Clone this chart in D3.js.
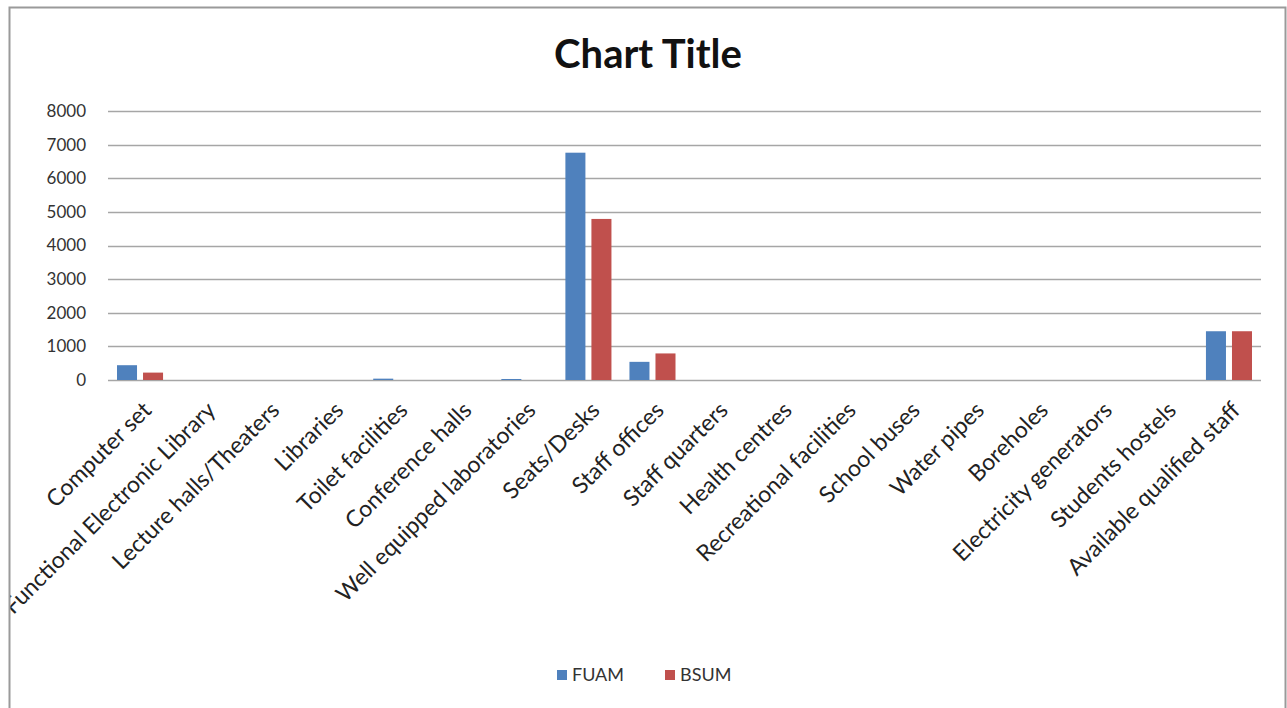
<!DOCTYPE html>
<html>
<head>
<meta charset="utf-8">
<script src="https://d3js.org/d3.v7.min.js"></script>
<style>
  body { margin: 0; background: #fff; }
  svg { display: block; }
</style>
</head>
<body>
<div id="chart"></div>
<script>
const categories = [
  "Computer set", "Functional Electronic Library", "Lecture halls/Theaters", "Libraries",
  "Toilet facilities", "Conference halls", "Well equipped laboratories", "Seats/Desks",
  "Staff offices", "Staff quarters", "Health centres", "Recreational facilities",
  "School buses", "Water pipes", "Boreholes", "Electricity generators",
  "Students hostels", "Available qualified staff"
];
const seriesNames = ["FUAM", "BSUM"];
const fuam = [440, 0, 0, 0, 40, 0, 30, 6760, 540, 0, 0, 0, 0, 0, 0, 0, 0, 1450];
const bsum = [220, 0, 0, 0, 0, 0, 0, 4790, 790, 0, 0, 0, 0, 0, 0, 0, 0, 1450];
const yTicks = [0, 1000, 2000, 3000, 4000, 5000, 6000, 7000, 8000];
const colors = ["#4F81BD", "#C0504D"];

const width = 1287, height = 708;
const font = "Lato, 'Open Sans', sans-serif";

const svg = d3.select("#chart").append("svg")
  .attr("width", width)
  .attr("height", height);

svg.append("defs").append("clipPath")
  .attr("id", "frame")
  .append("rect")
  .attr("x", 10).attr("y", 8)
  .attr("width", 1275).attr("height", 710);

const root = svg.append("g").attr("clip-path", "url(#frame)");

// chart border
svg.append("rect")
  .attr("x", 9.5).attr("y", 7.5)
  .attr("width", 1276).attr("height", 720)
  .attr("fill", "none")
  .attr("stroke", "#9a9a9a")
  .attr("stroke-width", 2);

const x0 = d3.scaleBand()
  .domain(categories)
  .range([108, 1261])
  .padding(0);

const x1 = d3.scaleBand()
  .domain(seriesNames)
  .range([9, x0.bandwidth() - 9])
  .paddingInner(6 / 26);

const y = d3.scaleLinear()
  .domain([0, 8000])
  .range([380, 111]);

// gridlines
root.append("g")
  .selectAll("line")
  .data(yTicks)
  .enter().append("line")
  .attr("x1", 108).attr("x2", 1261)
  .attr("y1", d => Math.round(y(d)) + 0.5)
  .attr("y2", d => Math.round(y(d)) + 0.5)
  .attr("stroke", "#a6a6a6")
  .attr("stroke-width", 1.6);

// y axis labels
const yAxis = root.append("g")
  .attr("transform", "translate(108,0)")
  .call(d3.axisLeft(y).tickValues(yTicks).tickFormat(d3.format("d")).tickSize(0).tickPadding(22));
yAxis.select(".domain").remove();
yAxis.selectAll("text")
  .attr("fill", "#333")
  .style("font-family", font)
  .style("font-size", "17px");

// bars
const data = categories.map((c, i) => ({ cat: c, values: [fuam[i], bsum[i]] }));
const groups = root.append("g")
  .selectAll("g")
  .data(data)
  .enter().append("g")
  .attr("transform", d => `translate(${x0(d.cat)},0)`);

groups.selectAll("rect")
  .data(d => d.values.map((v, k) => ({ key: seriesNames[k], v: v, k: k })))
  .enter().append("rect")
  .filter(d => d.v > 0)
  .attr("x", d => x1(d.key))
  .attr("width", x1.bandwidth())
  .attr("y", d => y(d.v))
  .attr("height", d => y(0) - y(d.v))
  .attr("fill", d => colors[d.k]);

// category labels
root.append("g")
  .selectAll("text")
  .data(categories)
  .enter().append("text")
  .attr("transform", d => `translate(${x0(d) + x0.bandwidth() / 2 + 7},406) rotate(-45)`)
  .attr("text-anchor", "end")
  .attr("dy", "0.35em")
  .attr("fill", "#222")
  .style("font-family", font)
  .style("font-size", "23px")
  .text(d => d);

// title
root.append("text")
  .attr("x", 648).attr("y", 68)
  .attr("text-anchor", "middle")
  .attr("fill", "#111")
  .style("font-family", font)
  .style("font-weight", "bold")
  .style("font-size", "40px")
  .text("Chart Title");

// legend
const legend = root.append("g").attr("transform", "translate(557,675)");
const items = legend.selectAll("g")
  .data(seriesNames)
  .enter().append("g")
  .attr("transform", (d, i) => `translate(${i * 108},0)`);
items.append("rect")
  .attr("x", 0).attr("y", -5)
  .attr("width", 10).attr("height", 10)
  .attr("fill", (d, i) => colors[i]);
items.append("text")
  .attr("x", 15).attr("dy", "0.36em")
  .attr("fill", "#333")
  .style("font-family", font)
  .style("font-size", "18px")
  .text(d => d);
</script>
</body>
</html>
